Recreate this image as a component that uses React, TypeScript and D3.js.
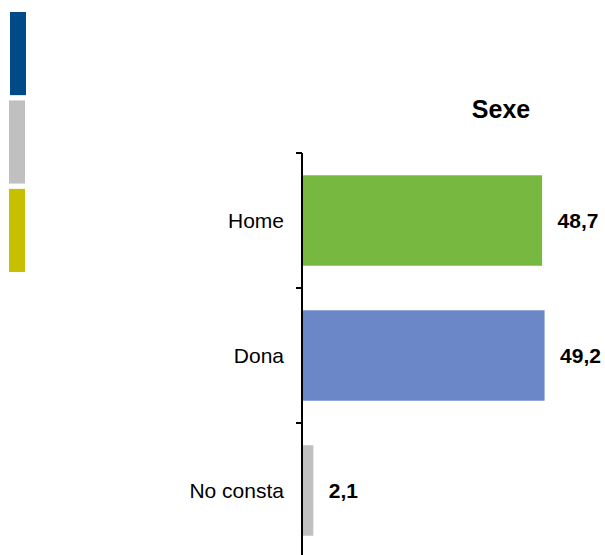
import React from "react";
import * as d3 from "d3";

const categories = ["Home", "Dona", "No consta"];
const values = [48.7, 49.2, 2.1];
const valueLabels = ["48,7", "49,2", "2,1"];
const barColors = ["#76b840", "#6b87c8", "#c0c0c0"];
const sideColors = ["#004b87", "#c0c0c0", "#c8bf00"];
const title = "Sexe";

export default function App() {
  const W = 605, H = 555;
  const x0 = 302;
  const x = d3.scaleLinear().domain([0, 100]).range([x0 + 1, x0 + 1 + 491]);
  const y = d3.scaleBand<string>().domain(categories).range([153, 558]).paddingInner(0.33).paddingOuter(0.165);
  const yb = d3.scaleBand<string>().domain(categories).range([153, 558]);
  const font = "Liberation Sans, Arial, sans-serif";
  const side = d3.scaleBand<number>().domain([0, 1, 2]).range([12, 272]).paddingInner(0.06);
  return (
    <svg width={W} height={H} style={{ position: "absolute", left: 0, top: 0, background: "#fff" }} fontFamily={font}>
      {sideColors.map((c, i) => (
        <rect key={i} x={i === 0 ? 10 : 9} y={side(i)} width={16} height={side.bandwidth()} fill={c} />
      ))}
      <text x={501} y={118} textAnchor="middle" fontSize={25} fontWeight="bold">{title}</text>
      {categories.map((c, i) => (
        <g key={c}>
          <rect x={x(0)} y={y(c)} width={x(values[i]) - x(0)} height={y.bandwidth()} fill={barColors[i]} />
          <text x={284} y={(y(c) as number) + y.bandwidth() / 2} dy="0.35em" textAnchor="end" fontSize={21}>{c}</text>
          <text x={x(values[i]) + 15.5} y={(y(c) as number) + y.bandwidth() / 2} dy="0.35em" fontSize={21} fontWeight="bold">{valueLabels[i]}</text>
        </g>
      ))}
      <line x1={x0} x2={x0} y1={153} y2={560} stroke="#000" strokeWidth={2} />
      {categories.map((c) => (
        <line key={c} x1={x0 - 6} x2={x0} y1={yb(c)} y2={yb(c)} stroke="#000" strokeWidth={2} />
      ))}
    </svg>
  );
}
